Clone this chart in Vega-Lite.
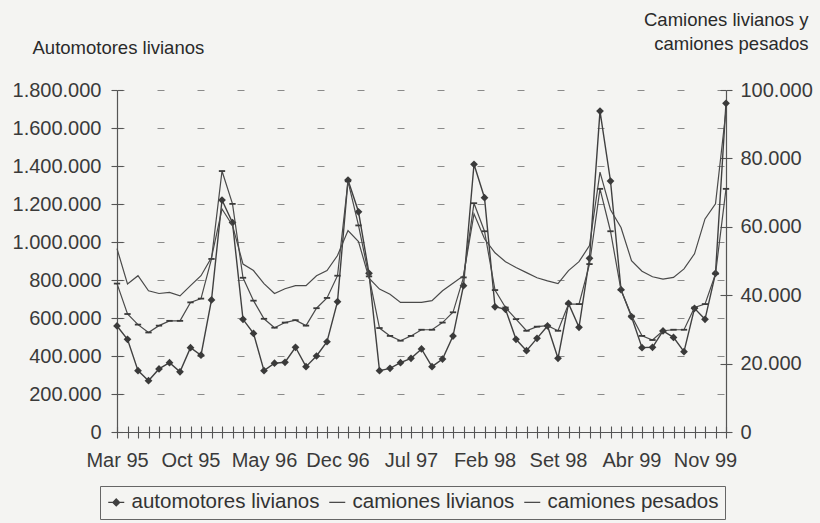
{
  "$schema": "https://vega.github.io/schema/vega-lite/v6.json",
  "width": 609,
  "height": 342,
  "autosize": {"type": "none"},
  "padding": {"left": 117, "top": 90, "right": 94, "bottom": 91},
  "background": "#f4f4f2",
  "config": {
    "locale": {"number": {"decimal": ",", "thousands": ".", "grouping": [3], "currency": ["$", ""]}},
    "font": "Liberation Sans",
    "view": {"stroke": null},
    "axis": {
      "labelFont": "Liberation Sans",
      "labelFontSize": 20,
      "labelColor": "#3a3a3a",
      "titleFont": "Liberation Sans",
      "titleColor": "#2a2a2a",
      "titleFontWeight": "normal",
      "domainColor": "#555555",
      "domainWidth": 1.2,
      "tickColor": "#555555",
      "tickWidth": 1.1,
      "tickSize": 6
    }
  },
  "data": {
    "values": [
      {"mes": "Mar 95", "auto": 558000, "camliv": 43400, "campes": 53600},
      {"mes": "Abr 95", "auto": 488000, "camliv": 34500, "campes": 43300},
      {"mes": "May 95", "auto": 323000, "camliv": 31400, "campes": 45700},
      {"mes": "Jun 95", "auto": 270000, "camliv": 29100, "campes": 41300},
      {"mes": "Jul 95", "auto": 332000, "camliv": 31100, "campes": 40500},
      {"mes": "Ago 95", "auto": 365000, "camliv": 32500, "campes": 40800},
      {"mes": "Set 95", "auto": 317000, "camliv": 32500, "campes": 39800},
      {"mes": "Oct 95", "auto": 444000, "camliv": 37900, "campes": 42800},
      {"mes": "Nov 95", "auto": 404000, "camliv": 39000, "campes": 45700},
      {"mes": "Dec 95", "auto": 695000, "camliv": 50600, "campes": 51000},
      {"mes": "Ene 96", "auto": 1221000, "camliv": 76300, "campes": 65200},
      {"mes": "Feb 96", "auto": 1102000, "camliv": 66700, "campes": 60400},
      {"mes": "Mar 96", "auto": 593000, "camliv": 45100, "campes": 49100},
      {"mes": "Abr 96", "auto": 519000, "camliv": 38400, "campes": 47200},
      {"mes": "May 96", "auto": 323000, "camliv": 33100, "campes": 43400},
      {"mes": "Jun 96", "auto": 362000, "camliv": 30500, "campes": 40500},
      {"mes": "Jul 96", "auto": 367000, "camliv": 32000, "campes": 41900},
      {"mes": "Ago 96", "auto": 446000, "camliv": 32700, "campes": 42800},
      {"mes": "Set 96", "auto": 344000, "camliv": 31100, "campes": 42800},
      {"mes": "Oct 96", "auto": 400000, "camliv": 36200, "campes": 45700},
      {"mes": "Nov 96", "auto": 475000, "camliv": 39200, "campes": 47200},
      {"mes": "Dec 96", "auto": 686000, "camliv": 45700, "campes": 51600},
      {"mes": "Ene 97", "auto": 1326000, "camliv": 73300, "campes": 58900},
      {"mes": "Feb 97", "auto": 1159000, "camliv": 60400, "campes": 55700},
      {"mes": "Mar 97", "auto": 835000, "camliv": 45500, "campes": 45000},
      {"mes": "Abr 97", "auto": 323000, "camliv": 30400, "campes": 41800},
      {"mes": "May 97", "auto": 335000, "camliv": 28100, "campes": 40300},
      {"mes": "Jun 97", "auto": 365000, "camliv": 26700, "campes": 37900},
      {"mes": "Jul 97", "auto": 388000, "camliv": 28100, "campes": 37900},
      {"mes": "Ago 97", "auto": 437000, "camliv": 29900, "campes": 37900},
      {"mes": "Set 97", "auto": 344000, "camliv": 29900, "campes": 38400},
      {"mes": "Oct 97", "auto": 384000, "camliv": 32000, "campes": 41300},
      {"mes": "Nov 97", "auto": 505000, "camliv": 35000, "campes": 43500},
      {"mes": "Dec 97", "auto": 770000, "camliv": 45200, "campes": 45700},
      {"mes": "Ene 98", "auto": 1409000, "camliv": 66900, "campes": 63800},
      {"mes": "Feb 98", "auto": 1233000, "camliv": 58700, "campes": 56500},
      {"mes": "Mar 98", "auto": 659000, "camliv": 41500, "campes": 52400},
      {"mes": "Abr 98", "auto": 646000, "camliv": 36400, "campes": 49800},
      {"mes": "May 98", "auto": 488000, "camliv": 33000, "campes": 48100},
      {"mes": "Jun 98", "auto": 428000, "camliv": 29600, "campes": 46600},
      {"mes": "Jul 98", "auto": 493000, "camliv": 30800, "campes": 45100},
      {"mes": "Ago 98", "auto": 558000, "camliv": 31100, "campes": 44200},
      {"mes": "Set 98", "auto": 388000, "camliv": 29600, "campes": 43400},
      {"mes": "Oct 98", "auto": 677000, "camliv": 37400, "campes": 47200},
      {"mes": "Nov 98", "auto": 551000, "camliv": 37400, "campes": 49800},
      {"mes": "Dec 98", "auto": 914000, "camliv": 49100, "campes": 54500},
      {"mes": "Ene 99", "auto": 1689000, "camliv": 71100, "campes": 76000},
      {"mes": "Feb 99", "auto": 1321000, "camliv": 58700, "campes": 65000},
      {"mes": "Mar 99", "auto": 749000, "camliv": 41500, "campes": 59800},
      {"mes": "Abr 99", "auto": 607000, "camliv": 34000, "campes": 50100},
      {"mes": "May 99", "auto": 444000, "camliv": 28100, "campes": 47000},
      {"mes": "Jun 99", "auto": 446000, "camliv": 26900, "campes": 45400},
      {"mes": "Jul 99", "auto": 532000, "camliv": 29600, "campes": 44700},
      {"mes": "Ago 99", "auto": 498000, "camliv": 29900, "campes": 45200},
      {"mes": "Set 99", "auto": 423000, "camliv": 29900, "campes": 47700},
      {"mes": "Oct 99", "auto": 651000, "camliv": 36400, "campes": 52100},
      {"mes": "Nov 99", "auto": 593000, "camliv": 37400, "campes": 62300},
      {"mes": "Dec 99", "auto": 835000, "camliv": 46200, "campes": 66700},
      {"mes": "Ene 00", "auto": 1730000, "camliv": 71100, "campes": 94000}
    ]
  },
  "layer": [
    {
      "encoding": {
        "x": {
          "field": "mes",
          "type": "ordinal",
          "sort": null,
          "scale": {"type": "point", "padding": 0},
          "axis": {
            "orient": "bottom",
            "title": null,
            "labelAngle": 0,
            "labelExpr": "indexof(['Mar 95','Oct 95','May 96','Dec 96','Jul 97','Feb 98','Set 98','Abr 99','Nov 99'], datum.value) >= 0 ? datum.value : ''",
            "labelOverlap": false,
            "labelPadding": 12,
            "labelBound": false,
            "labelFlush": false,
            "grid": false
          }
        }
      },
      "layer": [
        {
          "mark": {"type": "line", "strokeWidth": 1.4},
          "encoding": {
            "y": {
              "field": "auto",
              "type": "quantitative",
              "scale": {"domain": [0, 1800000], "nice": false, "zero": true},
              "axis": {
                "orient": "left",
                "values": [0, 200000, 400000, 600000, 800000, 1000000, 1200000, 1400000, 1600000, 1800000],
                "format": ",d",
                "labelPadding": 10,
                "grid": true,
                "gridColor": "#8a8a8a",
                "gridDash": [7, 33],
                "gridWidth": 1.1,
                "title": "Automotores livianos",
                "titleAngle": 0,
                "titleAlign": "left",
                "titleBaseline": "alphabetic",
                "titleX": -85,
                "titleY": -37,
                "titleFontSize": 18.5
              }
            },
            "color": {
              "datum": "automotores livianos",
              "type": "nominal",
              "scale": {
                "domain": ["automotores livianos", "camiones livianos", "camiones pesados"],
                "range": ["#404040", "#4a4a4a", "#4a4a4a"]
              },
              "legend": {
                "title": null,
                "orient": "none",
                "legendX": -17,
                "legendY": 396,
                "direction": "horizontal",
                "strokeColor": "#666666",
                "padding": 6,
                "labelFont": "Liberation Sans",
                "labelFontSize": 20.5,
                "labelLimit": 0,
                "labelColor": "#333333",
                "labelOffset": 5,
                "columnPadding": 6,
                "symbolType": "stroke",
                "symbolSize": 256,
                "symbolStrokeWidth": 1.3,
                "encode": {
                  "symbols": {
                    "update": {
                      "shape": {"signal": "datum.value == 'automotores livianos' ? 'M-1,0H1M0,-0.42L0.42,0L0,0.42L-0.42,0Z' : 'stroke'"},
                      "fill": {"value": "#404040"},
                      "stroke": {"value": "#404040"}
                    }
                  }
                }
              }
            }
          }
        },
        {
          "mark": {"type": "point", "shape": "diamond", "filled": true, "size": 60, "color": "#3a3a3a", "opacity": 1},
          "encoding": {
            "y": {
              "field": "auto",
              "type": "quantitative",
              "axis": {
                "orient": "left",
                "values": [0, 200000, 400000, 600000, 800000, 1000000, 1200000, 1400000, 1600000, 1800000],
                "labels": false,
                "domain": false,
                "grid": false,
                "title": null,
                "tickSize": -6
              }
            }
          }
        }
      ],
      "resolve": {"axis": {"y": "independent"}}
    },
    {
      "encoding": {
        "x": {
          "field": "mes",
          "type": "ordinal",
          "sort": null,
          "axis": {
            "orient": "bottom",
            "title": null,
            "labels": false,
            "domain": false,
            "grid": false,
            "tickSize": -6
          }
        }
      },
      "layer": [
        {
          "mark": {"type": "line", "strokeWidth": 1.2},
          "encoding": {
            "y": {
              "field": "camliv",
              "type": "quantitative",
              "scale": {"domain": [0, 100000], "nice": false},
              "axis": {
                "orient": "right",
                "values": [0, 20000, 40000, 60000, 80000, 100000],
                "format": ",d",
                "labelPadding": 8,
                "grid": false,
                "title": ["Camiones livianos y", "camiones pesados"],
                "titleAngle": 0,
                "titleAlign": "right",
                "titleBaseline": "alphabetic",
                "titleX": 82,
                "titleY": -65,
                "titleLineHeight": 24,
                "titleFontSize": 18.5
              }
            },
            "color": {"datum": "camiones livianos", "type": "nominal"}
          }
        },
        {
          "mark": {"type": "point", "shape": "stroke", "filled": false, "size": 40, "strokeWidth": 1.8, "color": "#3a3a3a", "opacity": 1},
          "encoding": {
            "y": {"field": "camliv", "type": "quantitative", "axis": null}
          }
        },
        {
          "mark": {"type": "line", "strokeWidth": 1.2},
          "encoding": {
            "y": {
              "field": "campes",
              "type": "quantitative",
              "axis": {
                "orient": "right",
                "values": [0, 20000, 40000, 60000, 80000, 100000],
                "labels": false,
                "domain": false,
                "grid": false,
                "title": null,
                "tickSize": -6
              }
            },
            "color": {"datum": "camiones pesados", "type": "nominal"}
          }
        }
      ],
      "resolve": {"axis": {"y": "independent"}}
    }
  ],
  "resolve": {"scale": {"y": "independent"}, "axis": {"x": "independent"}}
}
